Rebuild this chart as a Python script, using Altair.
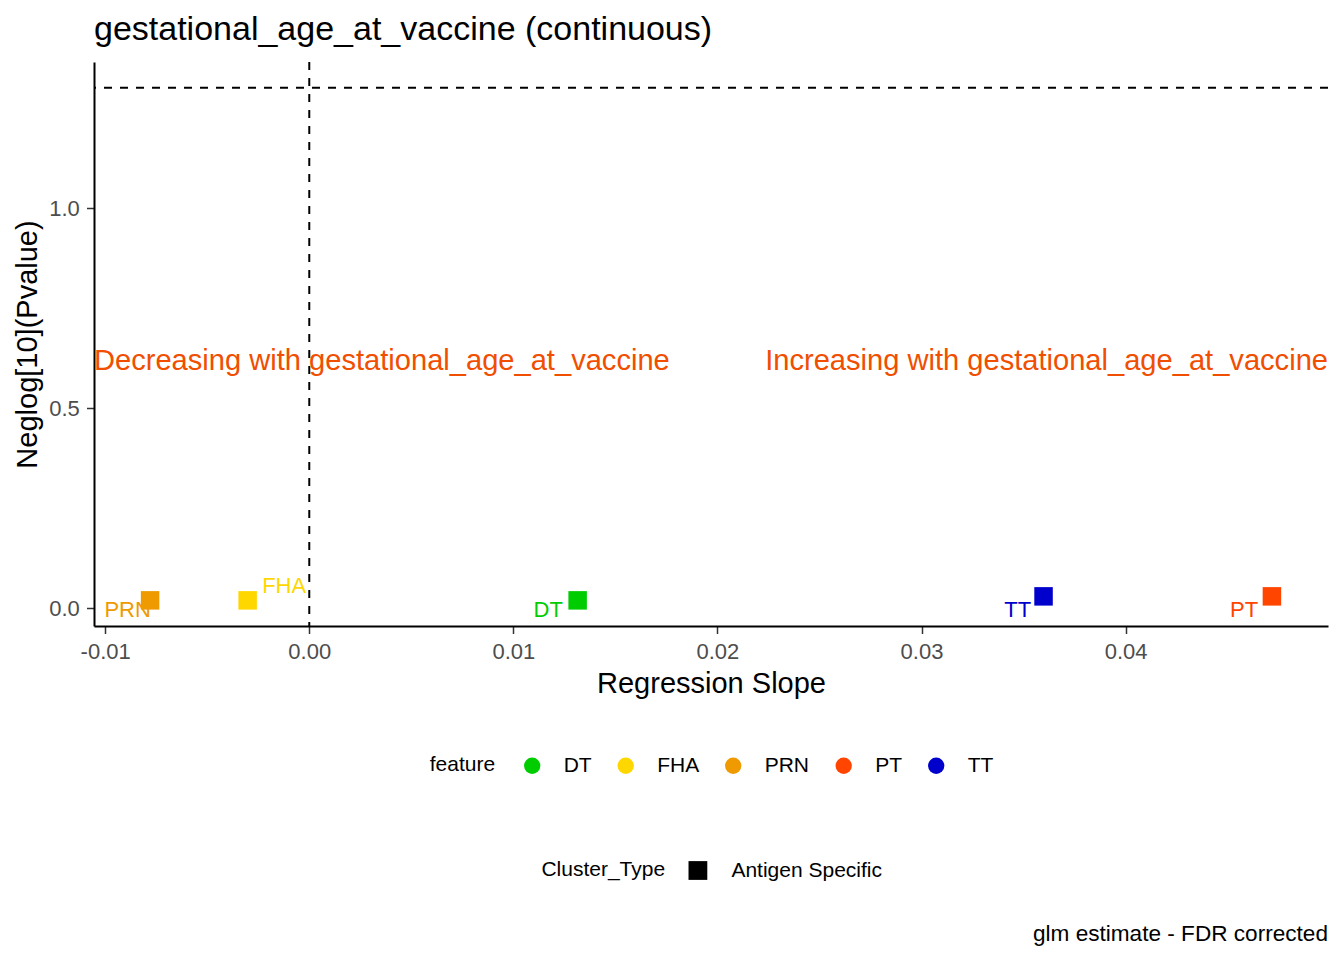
import altair as alt
import pandas as pd

# ---- data ----
features = ["DT", "FHA", "PRN", "PT", "TT"]
slope = [0.01315, -0.00302, -0.0078, 0.04717, 0.03598]
neglog_p = [0.02, 0.02, 0.02, 0.03, 0.03]
# repelled label positions (data units)
label_x = [0.01171, -0.00123, -0.0089, 0.04581, 0.03471]
label_y = [-0.0045, 0.0561, -0.0045, -0.0045, -0.0045]
cluster_type = ["Antigen Specific"] * 5
feature_colors = ["#00CD00", "#FFD700", "#EE9A00", "#FF4500", "#0000CD"]

sig_line = 1.30103  # -log10(0.05)
zero_line = 0.0
ann_texts = ["Decreasing with gestational_age_at_vaccine",
             "Increasing with gestational_age_at_vaccine"]
ann_y = [0.618, 0.618]
title_text = "gestational_age_at_vaccine (continuous)"
caption_text = "glm estimate - FDR corrected"
x_ticks = [-0.01, 0.0, 0.01, 0.02, 0.03, 0.04]
y_ticks = [0.0, 0.5, 1.0]

df = pd.DataFrame({
    "feature": features,
    "slope": slope,
    "neglog": neglog_p,
    "lx": label_x,
    "ly": label_y,
    "Cluster_Type": cluster_type,
})

# ggplot-like 5% expansion
xmin, xmax = min(slope), max(slope)
xpad = 0.05 * (xmax - xmin)
ymin, ymax = min(neglog_p + [sig_line]), max(neglog_p + [sig_line])
ypad = 0.05 * (ymax - ymin)
xdom = [xmin - xpad, xmax + xpad]
ydom = [ymin - ypad, ymax + ypad]

W, H = 1234, 564
FONT = "Liberation Sans"

xscale = alt.Scale(domain=xdom, nice=False, zero=False)
yscale = alt.Scale(domain=ydom, nice=False, zero=False)
cscale = alt.Scale(domain=features, range=feature_colors)

xaxis = alt.Axis(values=x_ticks,
                 labelExpr="replace(format(datum.value, '.2f'), '\u2212', '-')",
                 title="Regression Slope", grid=False,
                 domainColor="black", domainWidth=2,
                 tickColor="#333333", tickWidth=1.5, tickSize=7.5,
                 labelColor="#4D4D4D", labelFontSize=22, labelPadding=7.9,
                 titleFontSize=29, titleFontWeight="normal", titleColor="black",
                 titlePadding=7)
yaxis = alt.Axis(values=y_ticks, format=".1f",
                 title="Neglog[10](Pvalue)", grid=False,
                 domainColor="black", domainWidth=2,
                 tickColor="#333333", tickWidth=1.5, tickSize=7.5,
                 labelColor="#4D4D4D", labelFontSize=22, labelPadding=7.2,
                 titleFontSize=29, titleFontWeight="normal", titleColor="black",
                 titlePadding=6.6)

base = alt.Chart(df)

vline = alt.Chart(pd.DataFrame({"v": [zero_line]})).mark_rule(
    color="black", strokeDash=[8, 8], strokeWidth=2
).encode(x=alt.X("v:Q", scale=xscale, axis=xaxis))

hline = alt.Chart(pd.DataFrame({"h": [sig_line]})).mark_rule(
    color="black", strokeDash=[8, 8], strokeWidth=2
).encode(y=alt.Y("h:Q", scale=yscale, axis=yaxis))

points = base.mark_point(filled=True, size=342, opacity=1, strokeWidth=0).encode(
    x=alt.X("slope:Q", scale=xscale, axis=xaxis),
    y=alt.Y("neglog:Q", scale=yscale, axis=yaxis),
    color=alt.Color("feature:N", scale=cscale, legend=alt.Legend(
        title="feature", orient="none", legendX=335.7, legendY=693,
        direction="horizontal", titleOrient="left",
        symbolType="circle", symbolSize=266, symbolStrokeWidth=0, symbolOpacity=1,
        labelFontSize=21, labelColor="black", labelOffset=21, columnPadding=23.5,
        titleFontSize=21, titleFontWeight="normal", titleColor="black",
        titlePadding=26, padding=0)),
    shape=alt.Shape("Cluster_Type:N", scale=alt.Scale(range=["square"]), legend=alt.Legend(
        title="Cluster_Type", orient="none", legendX=447.4, legendY=798,
        direction="horizontal", titleOrient="left",
        symbolSize=353, symbolFillColor="black", symbolStrokeColor="black",
        symbolStrokeWidth=0, symbolOpacity=1,
        labelFontSize=21, labelColor="black", labelOffset=23,
        titleFontSize=21, titleFontWeight="normal", titleColor="black",
        titlePadding=22, padding=0)),
)

labels = base.mark_text(fontSize=22, baseline="middle", align="center").encode(
    x=alt.X("lx:Q", scale=xscale),
    y=alt.Y("ly:Q", scale=yscale),
    text="feature:N",
    color=alt.Color("feature:N", scale=cscale),
)

ann_df = pd.DataFrame({"t": ann_texts, "y": ann_y})
ann_left = alt.Chart(ann_df.iloc[[0]]).mark_text(
    fontSize=29.1, align="left", baseline="middle", color="#F04E00"
).encode(x=alt.value(0), y=alt.Y("y:Q", scale=yscale), text="t:N")
ann_right = alt.Chart(ann_df.iloc[[1]]).mark_text(
    fontSize=29.1, align="right", baseline="middle", color="#F04E00"
).encode(x=alt.value(W), y=alt.Y("y:Q", scale=yscale), text="t:N")

caption = alt.Chart(pd.DataFrame({"c": [caption_text]})).mark_text(
    fontSize=22.6, align="right", baseline="alphabetic", color="black"
).encode(x=alt.value(W), y=alt.value(879), text="c:N")

chart = alt.layer(vline, hline, points, labels, ann_left, ann_right, caption).properties(
    width=W, height=H,
    title=alt.TitleParams(title_text, anchor="start", frame="group", fontSize=34,
                          fontWeight="normal", color="black", baseline="alphabetic",
                          offset=20, dy=33),
    padding={"left": 86, "top": 54, "right": 8, "bottom": 326},
    autosize=alt.AutoSizeParams(type="none"),
).configure(font=FONT).configure_view(stroke=None)

chart.save("out.html", embed_options={"renderer": "svg", "actions": False})
